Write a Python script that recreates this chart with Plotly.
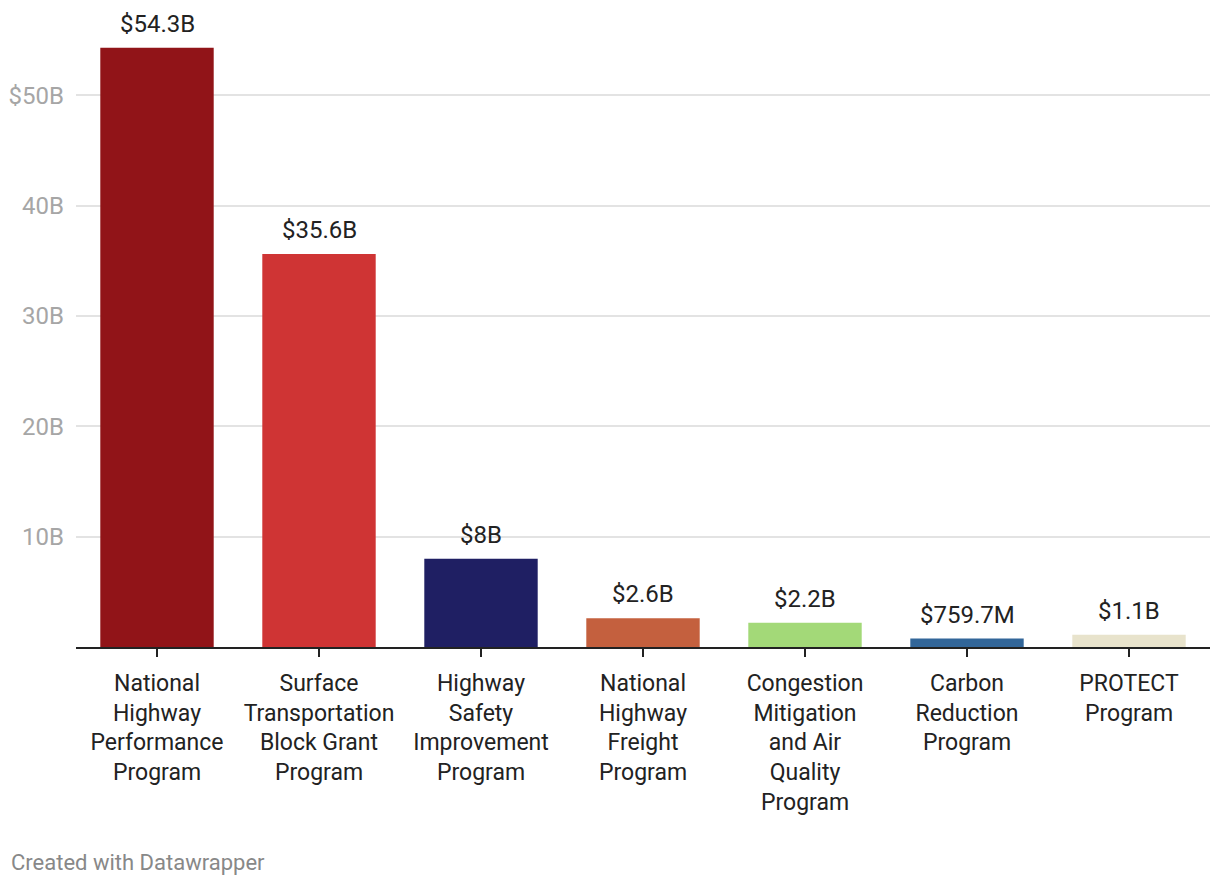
import plotly.graph_objects as go

categories = [
    "National<br>Highway<br>Performance<br>Program",
    "Surface<br>Transportation<br>Block Grant<br>Program",
    "Highway<br>Safety<br>Improvement<br>Program",
    "National<br>Highway<br>Freight<br>Program",
    "Congestion<br>Mitigation<br>and Air<br>Quality<br>Program",
    "Carbon<br>Reduction<br>Program",
    "PROTECT<br>Program",
]
values = [54.3, 35.6, 8.0, 2.6, 2.2, 0.7597, 1.1]
value_labels = ["$54.3B", "$35.6B", "$8B", "$2.6B", "$2.2B", "$759.7M", "$1.1B"]
colors = ["#911418", "#cf3434", "#1f1f63", "#c4603e", "#a3d978", "#326699", "#e8e3cc"]
y_tickvals = [10, 20, 30, 40, 50]
y_ticktext = ["10B", "20B", "30B", "40B", "$50B"]

FONT = "Roboto"

fig = go.Figure()
fig.add_trace(go.Bar(
    x=categories, y=values,
    marker=dict(color=colors, line=dict(width=0)),
    hoverinfo="skip",
))

for c, v, t in zip(categories, values, value_labels):
    fig.add_annotation(
        x=c, y=v, text=t, showarrow=False,
        xanchor="center", yanchor="bottom", yshift=8,
        font=dict(family=FONT, size=24, color="#222222"),
    )

fig.add_annotation(
    xref="paper", yref="paper", x=0, xshift=-67, y=0, yshift=-230,
    xanchor="left", yanchor="bottom",
    text="Created with Datawrapper", showarrow=False,
    font=dict(family=FONT, size=22, color="#888888"),
)

fig.update_layout(
    width=1220, height=890,
    margin=dict(l=76, r=10, t=40, b=243),
    paper_bgcolor="white", plot_bgcolor="white",
    bargap=0.30,
    showlegend=False,
    font=dict(family=FONT, size=22, color="#222222"),
    xaxis=dict(
        showline=True, linecolor="#222222", linewidth=2,
        ticks="outside", ticklen=8, tickwidth=2, tickcolor="#222222",
        tickfont=dict(family=FONT, size=23, color="#222222"),
        ticklabelstandoff=6,
        showgrid=False, zeroline=False, fixedrange=True,
    ),
    yaxis=dict(
        range=[0, 55],
        tickvals=y_tickvals, ticktext=y_ticktext,
        tickfont=dict(family=FONT, size=24, color="#a6a6a6"),
        showgrid=True, gridcolor="#e3e3e3", gridwidth=1.5,
        zeroline=False, showline=False, ticks="",
        ticklabelstandoff=11, fixedrange=True,
    ),
)

fig.write_html(
    "out.html",
    config={"displayModeBar": False},
    post_script="document.body.style.margin='0';document.body.style.overflow='hidden';",
)
